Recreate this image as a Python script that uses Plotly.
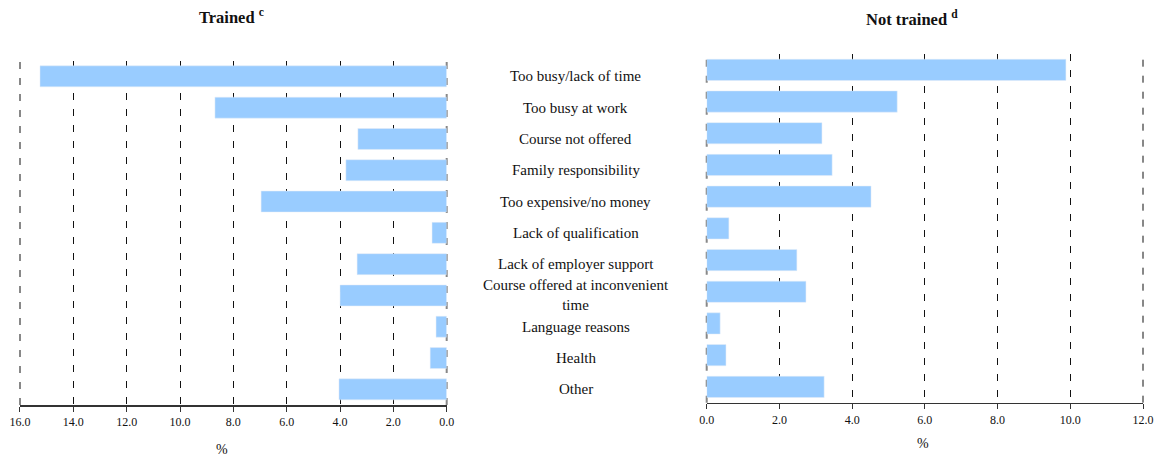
import plotly.graph_objects as go

categories = [
    "Too busy/lack of time",
    "Too busy at work",
    "Course not offered",
    "Family responsibility",
    "Too expensive/no money",
    "Lack of qualification",
    "Lack of employer support",
    "Course offered at inconvenient<br>time",
    "Language reasons",
    "Health",
    "Other",
]
trained = [15.25, 8.69, 3.33, 3.78, 6.96, 0.55, 3.36, 4.0, 0.40, 0.62, 4.04]
not_trained = [9.88, 5.24, 3.17, 3.45, 4.52, 0.61, 2.48, 2.73, 0.37, 0.53, 3.23]
left_ticks = [0, 2, 4, 6, 8, 10, 12, 14, 16]
right_ticks = [0, 2, 4, 6, 8, 10, 12]

BAR = "#99CCFF"
FONT = "Liberation Serif"
W, H = 1158, 456

fig = go.Figure()
fig.add_trace(go.Bar(x=trained, y=categories, orientation="h", marker_color=BAR,
                     xaxis="x", yaxis="y", showlegend=False, hoverinfo="skip"))
fig.add_trace(go.Bar(x=not_trained, y=categories, orientation="h", marker_color=BAR,
                     xaxis="x2", yaxis="y2", showlegend=False, hoverinfo="skip"))

xcommon = dict(
    showgrid=True, gridcolor="#111", gridwidth=1, griddash="7px,9px",
    zeroline=False, showline=True, linecolor="#333", linewidth=1.5,
    ticks="outside", ticklen=5, tickcolor="#333", tickformat=".1f",
    tickfont=dict(family=FONT, size=12, color="#111"),
)

fig.update_layout(
    width=W, height=H,
    margin=dict(l=0, r=0, t=0, b=0, autoexpand=False),
    paper_bgcolor="white", plot_bgcolor="white",
    bargap=0.33,
    xaxis=dict(domain=[0.01727, 0.38575], range=[16, 0], tickvals=left_ticks, anchor="y", **xcommon),
    yaxis=dict(domain=[0.11184, 0.8669], autorange="reversed", showticklabels=False,
               showgrid=False, zeroline=False, anchor="x"),
    xaxis2=dict(domain=[0.61028, 0.98705], range=[0, 12], tickvals=right_ticks, anchor="y2", **xcommon),
    yaxis2=dict(domain=[0.11689, 0.88158], autorange="reversed", showticklabels=False,
                showgrid=False, zeroline=False, anchor="x2"),
)

# edge grid lines (domain-relative)
gray_dash = dict(color="#888", width=2, dash="7px,9px")
fig.add_shape(type="line", xref="x domain", x0=0, x1=0, yref="y domain", y0=0, y1=1,
              layer="below", line=gray_dash)
fig.add_shape(type="line", xref="x domain", x0=1, x1=1, yref="y domain", y0=0, y1=1,
              layer="below", line=gray_dash)
fig.add_shape(type="line", xref="x2 domain", x0=0, x1=0, yref="y2 domain", y0=0, y1=1,
              layer="below", line=gray_dash)
fig.add_shape(type="line", xref="x2 domain", x0=1, x1=1, yref="y2 domain", y0=0, y1=1,
              layer="below", line=dict(color="#111", width=1, dash="7px,9px"))

annotations = []
for c in categories:
    annotations.append(dict(
        x=0.4974, xref="paper", y=c, yref="y", text=c, showarrow=False,
        xanchor="center", yanchor="middle", align="center",
        font=dict(family=FONT, size=15, color="#111"),
    ))
annotations.append(dict(x=0.2003, xref="paper", y=0.9649, yref="paper",
                        text="<b>Trained <sup>c</sup></b>", showarrow=False,
                        xanchor="center", yanchor="middle",
                        font=dict(family=FONT, size=16.5, color="#111")))
annotations.append(dict(x=0.7876, xref="paper", y=0.9594, yref="paper",
                        text="<b>Not trained <sup>d</sup></b>", showarrow=False,
                        xanchor="center", yanchor="middle",
                        font=dict(family=FONT, size=16.5, color="#111")))
annotations.append(dict(x=0.1917, xref="paper", y=0.01535, yref="paper", text="%",
                        showarrow=False, xanchor="center", yanchor="middle",
                        font=dict(family=FONT, size=14, color="#111")))
annotations.append(dict(x=0.7971, xref="paper", y=0.0285, yref="paper", text="%",
                        showarrow=False, xanchor="center", yanchor="middle",
                        font=dict(family=FONT, size=14, color="#111")))
fig.update_layout(annotations=annotations)

fig.write_html(
    "out.html",
    config={"displayModeBar": False, "staticPlot": True},
    post_script="document.body.style.margin='0';document.body.style.overflow='hidden';",
)
